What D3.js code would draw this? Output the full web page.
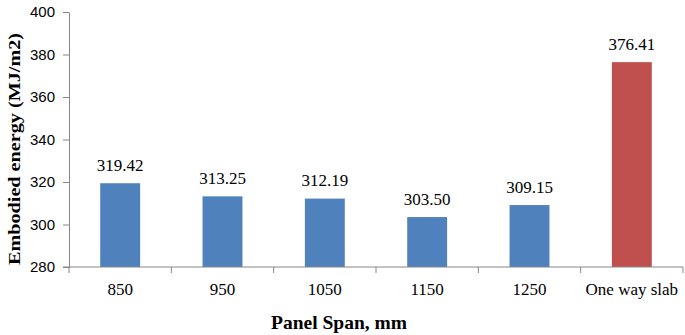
<!DOCTYPE html>
<html>
<head>
<meta charset="utf-8">
<script src="https://cdn.jsdelivr.net/npm/d3@7"></script>
<style>
  body { margin: 0; background: #fff; }
  svg { display: block; }
</style>
</head>
<body>
<svg id="vis" width="685" height="335"></svg>
<script>
const categories = ['850', '950', '1050', '1150', '1250', 'One way slab'];
const values = [319.42, 313.25, 312.19, 303.50, 309.15, 376.41];
const barColors = ['#4F81BD', '#4F81BD', '#4F81BD', '#4F81BD', '#4F81BD', '#C0504D'];
const yTicks = [280, 300, 320, 340, 360, 380, 400];

const width = 685;
const height = 335;
const margin = {top: 12, right: 2, bottom: 68, left: 69};
const serif = '"Liberation Serif", "Times New Roman", serif';
const svg = d3.select('#vis');

const x = d3.scaleBand().domain(categories).range([margin.left, width - margin.right]).paddingInner(0.61).paddingOuter(0.305);
const y = d3.scaleLinear().domain([280, 400]).range([height - margin.bottom, margin.top]);

const axisColor = '#868686';

// bars
svg.append('g').selectAll('rect').data(values).enter().append('rect')
  .attr('x', (d, i) => x(categories[i]))
  .attr('y', d => y(d))
  .attr('width', x.bandwidth())
  .attr('height', d => y(280) - y(d))
  .attr('fill', (d, i) => barColors[i]);

// value labels
svg.append('g').selectAll('text').data(values).enter().append('text')
  .attr('x', (d, i) => x(categories[i]) + x.bandwidth() / 2)
  .attr('y', d => y(d) - 12.5)
  .attr('text-anchor', 'middle')
  .style('font-family', serif)
  .style('font-size', '17px')
  .text(d => d.toFixed(2));

// y axis
const yAxis = svg.append('g')
  .attr('transform', `translate(${margin.left},0)`)
  .call(d3.axisLeft(y).tickValues(yTicks).tickSize(6).tickSizeOuter(0).tickPadding(8));
yAxis.select('.domain').attr('stroke', axisColor);
yAxis.selectAll('.tick line').attr('stroke', axisColor);
yAxis.selectAll('.tick text')
  .attr('fill', '#000')
  .style('font-family', '"Liberation Sans", Arial, sans-serif')
  .style('font-size', '15px');

// x axis
const xEdges = categories.map(c => x(c) - x.step() * x.paddingInner() / 2).concat([width - margin.right]);
const xAxisG = svg.append('g').attr('transform', `translate(0,${height - margin.bottom})`);
xAxisG.append('line')
  .attr('x1', margin.left - 6).attr('x2', width - margin.right)
  .attr('stroke', axisColor);
xAxisG.selectAll('line.tk').data(xEdges).enter().append('line')
  .attr('class', 'tk')
  .attr('x1', d => d).attr('x2', d => d)
  .attr('y1', 0).attr('y2', 6)
  .attr('stroke', axisColor);
xAxisG.selectAll('text').data(categories).enter().append('text')
  .attr('x', d => x(d) + x.bandwidth() / 2)
  .attr('y', 27.5)
  .attr('text-anchor', 'middle')
  .style('font-family', serif)
  .style('font-size', '17px')
  .text(d => d);

// axis titles
svg.append('text')
  .attr('x', 339)
  .attr('y', 329)
  .attr('text-anchor', 'middle')
  .style('font-family', serif)
  .style('font-weight', 'bold')
  .style('font-size', '19.5px')
  .text('Panel Span, mm');

svg.append('text')
  .attr('transform', `translate(20,${(33 + 265) / 2}) rotate(-90)`)
  .attr('text-anchor', 'middle')
  .attr('textLength', 232)
  .attr('lengthAdjust', 'spacingAndGlyphs')
  .style('font-family', serif)
  .style('font-weight', 'bold')
  .style('font-size', '17px')
  .text('Embodied energy (MJ/m2)');
</script>
</body>
</html>
